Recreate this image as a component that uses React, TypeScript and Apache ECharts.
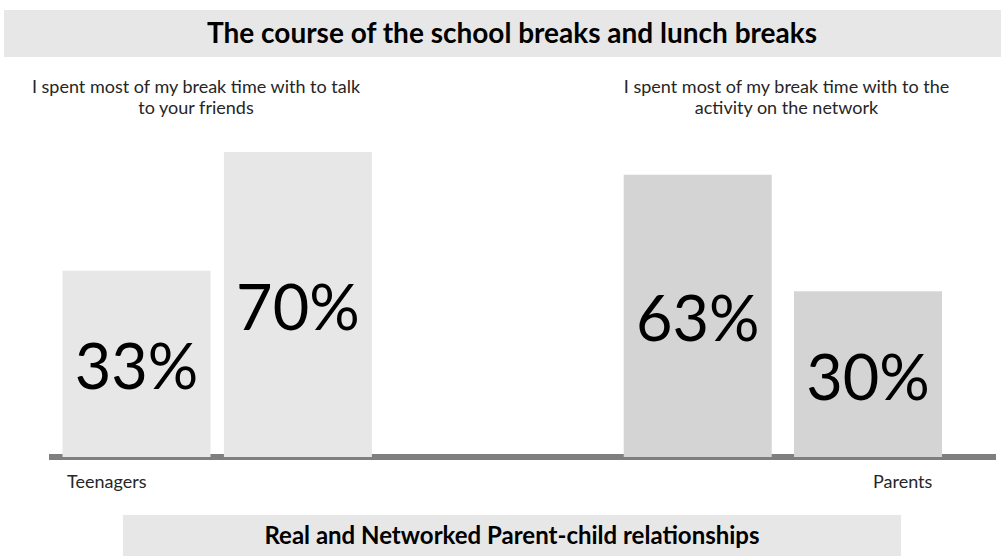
import React, { useEffect, useRef } from "react";
import * as echarts from "echarts";

const chartTitle = "The course of the school breaks and lunch breaks";
const footerTitle = "Real and Networked Parent-child relationships";
const questionLabels = [
  "I spent most of my break time with to talk\nto your friends",
  "I spent most of my break time with to the\nactivity on the network",
];
const groupLabels = ["Teenagers", "Parents"];
const barCategories = ["Teenagers", "Parents"];
const talkFriendsValues = [33, 70];
const networkValues = [63, 30];

const FONT = "Lato, 'Noto Sans', sans-serif";
const LIGHT = "#e7e7e7";
const MID = "#d5d4d5";

export default function App() {
  const ref = useRef<HTMLDivElement>(null);
  useEffect(() => {
    if (!ref.current) return;
    const chart = echarts.init(ref.current, undefined, { renderer: "svg" });
    const labelStyle = {
      show: true,
      position: "inside",
      formatter: "{c}%",
      fontSize: 63,
      fontFamily: FONT,
      color: "#000",
      offset: [0, 1],
    };
    chart.setOption({
      animation: false,
      backgroundColor: "#fff",
      grid: [
        { left: 55.8, width: 322.8, top: 55.7, height: 401.3 },
        { left: 612.55, width: 340.6, top: 44.1, height: 412.9 },
      ],
      xAxis: [
        { type: "category", gridIndex: 0, data: barCategories, show: false },
        { type: "category", gridIndex: 1, data: barCategories, show: false },
      ],
      yAxis: [
        { type: "value", gridIndex: 0, min: -25, max: 100, startValue: -25, show: false },
        { type: "value", gridIndex: 1, min: -17, max: 100, startValue: -17, show: false },
      ],
      graphic: [
        { type: "rect", z: 0, shape: { x: 4, y: 10, width: 997, height: 47 }, style: { fill: LIGHT } },
        {
          type: "text", z: 1, x: 512, y: 32,
          style: { text: chartTitle, align: "center", verticalAlign: "middle", font: `bold 28px ${FONT}`, fill: "#000" },
        },
        {
          type: "text", z: 1, x: 196, y: 96,
          style: { text: questionLabels[0], align: "center", verticalAlign: "middle", font: `18px ${FONT}`, lineHeight: 21, fill: "#262626" },
        },
        {
          type: "text", z: 1, x: 786.5, y: 96,
          style: { text: questionLabels[1], align: "center", verticalAlign: "middle", font: `18px ${FONT}`, lineHeight: 21, fill: "#262626" },
        },
        { type: "rect", z: 0, shape: { x: 49, y: 454, width: 947, height: 6 }, style: { fill: "#7f7f7f" } },
        {
          type: "text", z: 1, x: 67, y: 481,
          style: { text: groupLabels[0], align: "left", verticalAlign: "middle", font: `18px ${FONT}`, fill: "#262626" },
        },
        {
          type: "text", z: 1, x: 873, y: 481,
          style: { text: groupLabels[1], align: "left", verticalAlign: "middle", font: `18px ${FONT}`, fill: "#262626" },
        },
        { type: "rect", z: 0, shape: { x: 123, y: 515, width: 778, height: 41 }, style: { fill: LIGHT } },
        {
          type: "text", z: 1, x: 512, y: 534,
          style: { text: footerTitle, align: "center", verticalAlign: "middle", font: `bold 24px ${FONT}`, fill: "#000" },
        },
      ],
      series: [
        {
          type: "bar", xAxisIndex: 0, yAxisIndex: 0, data: talkFriendsValues, barWidth: 148,
          itemStyle: { color: LIGHT }, label: labelStyle,
        },
        {
          type: "bar", xAxisIndex: 1, yAxisIndex: 1, data: networkValues, barWidth: 148,
          itemStyle: { color: MID }, label: labelStyle,
        },
      ],
    });
    return () => chart.dispose();
  }, []);
  return <div ref={ref} style={{ position: "fixed", left: 0, top: 0, width: 1001, height: 556 }} />;
}
